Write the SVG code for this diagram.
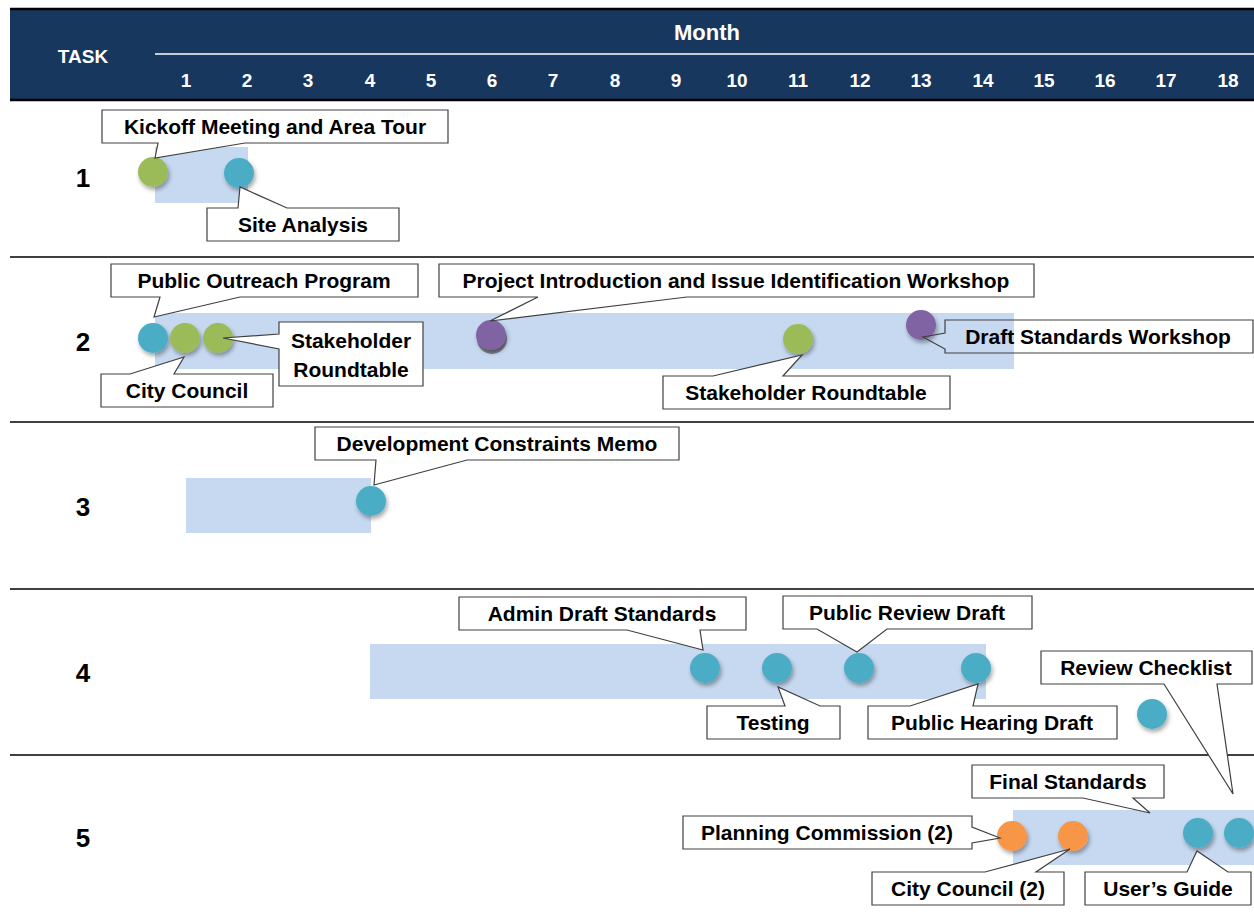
<svg xmlns="http://www.w3.org/2000/svg" width="1254" height="915" viewBox="0 0 1254 915">
<defs>
<filter id="sh" x="-50%" y="-50%" width="200%" height="200%">
<feDropShadow dx="1.5" dy="3" stdDeviation="2" flood-color="#000" flood-opacity="0.35"/>
</filter>
</defs>
<style>
text{font-family:"Liberation Sans",Arial,sans-serif;font-weight:bold}
.hd{fill:#fff;font-size:19px;text-anchor:middle}
.tn{fill:#000;font-size:26px;text-anchor:middle}
.lb{fill:#000;font-size:21px;text-anchor:middle}
.bar{fill:#c6d9f1}
.co{fill:#fff;stroke:#404040;stroke-width:1.2}
.con{fill:none;stroke:#404040;stroke-width:1.2}
.sep{stroke:#000;stroke-width:1.3}
.g{fill:#9bbb59;filter:url(#sh)}
.t{fill:#4bacc6;filter:url(#sh)}
.p{fill:#8064a2;filter:url(#sh)}
.o{fill:#f79646;filter:url(#sh)}
</style>
<rect width="1254" height="915" fill="#fff"/>
<g id="header">
<rect x="10" y="9" width="1244" height="91" fill="#17375e"/>
<line x1="10" y1="9" x2="1254" y2="9" stroke="#000" stroke-width="2.5"/>
<line x1="10" y1="100" x2="1254" y2="100" stroke="#000" stroke-width="2.5"/>
<line x1="155" y1="54" x2="1254" y2="54" stroke="#fff" stroke-width="1.5"/>
<text class="hd" x="83" y="63">TASK</text>
<text class="hd" x="707" y="40" style="font-size:22px">Month</text>
<text class="hd" x="186" y="87">1</text>
<text class="hd" x="247" y="87">2</text>
<text class="hd" x="308" y="87">3</text>
<text class="hd" x="370" y="87">4</text>
<text class="hd" x="431" y="87">5</text>
<text class="hd" x="492" y="87">6</text>
<text class="hd" x="553" y="87">7</text>
<text class="hd" x="615" y="87">8</text>
<text class="hd" x="676" y="87">9</text>
<text class="hd" x="737" y="87">10</text>
<text class="hd" x="798" y="87">11</text>
<text class="hd" x="860" y="87">12</text>
<text class="hd" x="921" y="87">13</text>
<text class="hd" x="983" y="87">14</text>
<text class="hd" x="1044" y="87">15</text>
<text class="hd" x="1105" y="87">16</text>
<text class="hd" x="1166" y="87">17</text>
<text class="hd" x="1228" y="87">18</text>
</g>
<g id="separators">
<line class="sep" x1="10" y1="257" x2="1254" y2="257"/>
<line class="sep" x1="10" y1="422" x2="1254" y2="422"/>
<line class="sep" x1="10" y1="589" x2="1254" y2="589"/>
<line class="sep" x1="10" y1="755" x2="1254" y2="755"/>
</g>
<g id="task-labels">
<text class="tn" x="83" y="187">1</text>
<text class="tn" x="83" y="351">2</text>
<text class="tn" x="83" y="516">3</text>
<text class="tn" x="83" y="682">4</text>
<text class="tn" x="83" y="847">5</text>
</g>
<g id="bars">
<rect id="bar1" class="bar" x="155" y="147" width="93" height="56"/>
<rect id="bar2" class="bar" x="155" y="313" width="859" height="56"/>
<rect id="bar3" class="bar" x="186" y="478" width="185" height="55"/>
<rect id="bar4" class="bar" x="370" y="644" width="616" height="55"/>
<rect id="bar5" class="bar" x="1013" y="810" width="241" height="55"/>
</g>
<g id="milestones">
<circle class="g" cx="153" cy="172" r="15"/>
<circle class="t" cx="239" cy="173" r="15"/>
<circle class="t" cx="153" cy="338" r="15"/>
<circle class="g" cx="185" cy="338" r="15"/>
<circle class="g" cx="218" cy="338" r="15"/>
<circle cx="492" cy="339" r="15" fill="#7f7f8f"/>
<circle class="p" cx="491" cy="335" r="15"/>
<circle class="g" cx="798" cy="339" r="15"/>
<circle class="p" cx="921" cy="325" r="15"/>
<circle class="t" cx="371" cy="501" r="15"/>
<circle class="t" cx="705" cy="668" r="15"/>
<circle class="t" cx="777" cy="668" r="15"/>
<circle class="t" cx="859" cy="668" r="15"/>
<circle class="t" cx="976" cy="668" r="15"/>
<circle class="t" cx="1152" cy="714" r="15"/>
<circle class="o" cx="1012" cy="836" r="15"/>
<circle class="o" cx="1073" cy="836" r="15"/>
<circle class="t" cx="1198" cy="833" r="15"/>
<circle class="t" cx="1239" cy="833" r="15"/>
</g>
<g id="connectors"></g>
<g id="c-kickoff"><path class="co" d="M102,110 H448 V143 H245 L155,158 L158,143 H102 Z"/><text class="lb" x="275" y="134">Kickoff Meeting and Area Tour</text></g>
<g id="c-site"><path class="co" d="M207,208 H238 L240,187 L287,208 H399 V241 H207 Z"/><text class="lb" x="303" y="232">Site Analysis</text></g>
<g id="c-outreach"><path class="co" d="M111,264 H418 V297 H240 L154,317 L160,297 H111 Z"/><text class="lb" x="264" y="288">Public Outreach Program</text></g>
<g id="c-council"><path class="co" d="M101,374 H130 L184,357 L174,374 H273 V407 H101 Z"/><text class="lb" x="187" y="398">City Council</text></g>
<g id="c-stake1"><path class="co" d="M279,322 H423 V386 H279 V349 L223,338 L279,334 Z"/><text class="lb" x="351" y="348">Stakeholder</text><text class="lb" x="351" y="377">Roundtable</text></g>
<g id="c-intro"><path class="co" d="M439,264 H1034 V297 H687 L490,321 L538,297 H439 Z"/><text class="lb" x="736" y="288">Project Introduction and Issue Identification Workshop</text></g>
<g id="c-stake2"><path class="co" d="M663,376 H713 L802,355 L783,376 H950 V409 H663 Z"/><text class="lb" x="806" y="400">Stakeholder Roundtable</text></g>
<g id="c-draftws"><path class="con" d="M945,320 H1253 V353 H945 V349 L923,337 L945,333 Z"/><text class="lb" x="1098" y="344">Draft Standards Workshop</text></g>
<g id="c-memo"><path class="co" d="M315,427 H679 V460 H467 L374,485 L376,460 H315 Z"/><text class="lb" x="497" y="451">Development Constraints Memo</text></g>
<g id="c-admin"><path class="co" d="M459,597 H746 V630 H700 L703,650 L627,630 H459 Z"/><text class="lb" x="602" y="621">Admin Draft Standards</text></g>
<g id="c-testing"><path class="co" d="M707,706 H785 L778,687 L820,706 H840 V739 H707 Z"/><text class="lb" x="773" y="730">Testing</text></g>
<g id="c-review"><path class="co" d="M783,596 H1032 V629 H887 L857,652 L817,629 H783 Z"/><text class="lb" x="907" y="620">Public Review Draft</text></g>
<g id="c-hearing"><path class="co" d="M868,706 H910 L978,684 L973,706 H1117 V739 H868 Z"/><text class="lb" x="992" y="730">Public Hearing Draft</text></g>
<g id="c-checklist"><path class="co" d="M1041,651 H1252 V684 H1217 L1233,794 L1164,684 H1041 Z"/><text class="lb" x="1146" y="675">Review Checklist</text></g>
<g id="c-final"><path class="co" d="M972,765 H1164 V798 H1133 L1150,813 L1083,798 H972 Z"/><text class="lb" x="1068" y="789">Final Standards</text></g>
<g id="c-planning"><path class="co" d="M683,816 H972 V827 L1000,838 L972,843 V849 H683 Z"/><text class="lb" x="827" y="840">Planning Commission (2)</text></g>
<g id="c-council2"><path class="co" d="M872,872 H985 L1070,849 L1036,872 H1064 V905 H872 Z"/><text class="lb" x="968" y="896">City Council (2)</text></g>
<g id="c-guide"><path class="co" d="M1085,872 H1187 L1197,851 L1228,872 H1251 V905 H1085 Z"/><text class="lb" x="1168" y="896">User’s Guide</text></g>
</svg>
